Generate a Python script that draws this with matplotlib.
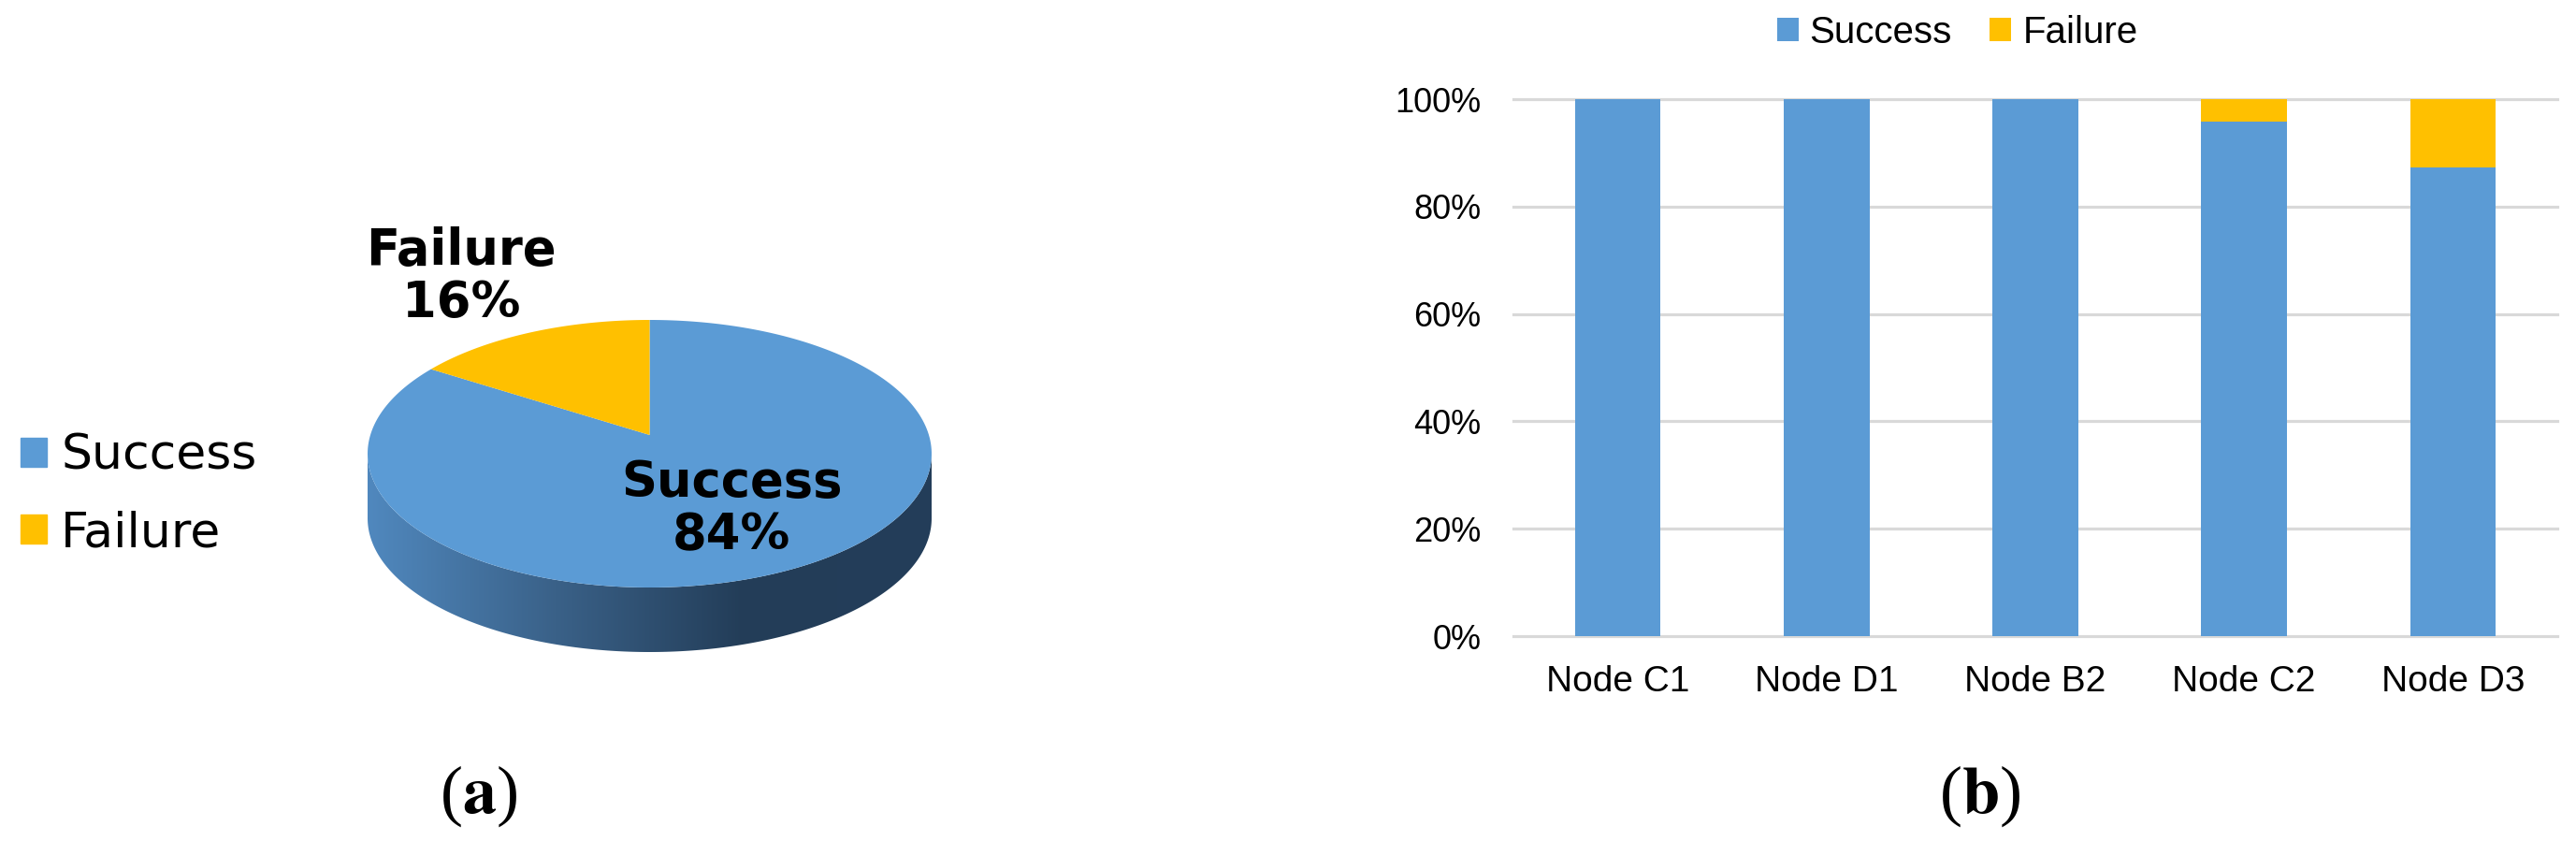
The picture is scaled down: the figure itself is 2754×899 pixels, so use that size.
"""
Two-panel figure: (a) overall success/failure share as a tilted 3-D pie,
(b) per-node success/failure share as 100% stacked bars.
Writes out.png (2754 x 899 px).
"""

import numpy as np

import matplotlib
matplotlib.use("Agg")
import matplotlib.pyplot as plt
from matplotlib.colors import LinearSegmentedColormap
from matplotlib.patches import Patch, Polygon
from matplotlib.ticker import PercentFormatter


# ---- data ----
PIE_LABELS = ["Success", "Failure"]
PIE_SHARES = [84, 16]

NODES = ["Node C1", "Node D1", "Node B2", "Node C2", "Node D3"]
SUCCESS = [100.0, 100.0, 100.0, 95.8, 87.3]
FAILURE = [0.0, 0.0, 0.0, 4.2, 12.7]

COLORS = {"Success": "#5B9BD5", "Failure": "#FFC000"}
SIDE_CMAP = LinearSegmentedColormap.from_list(
    "side", ["#5088BE", "#3A6188", "#233D58", "#243E5A"])

W, H, DPI = 2754, 899, 100
BAR_FONT = "Liberation Sans"

plt.rcParams["mathtext.fontset"] = "stix"

fig = plt.figure(figsize=(W / DPI, H / DPI), dpi=DPI)

# ---- (a) pie, drawn in pixel coordinates of the whole figure ----
axp = fig.add_axes([0, 0, 1, 1], zorder=0)
axp.set_xlim(0, W); axp.set_ylim(H, 0); axp.axis("off")

cx, cy, rx, ry, depth = 694.5, 485.0, 301.5, 143.0, 69.0
lift = 0.14          # perspective: the hub sits a bit above the ellipse centre


def rim(t0, t1, dy=0.0, n=240):
    t = np.radians(np.linspace(t0, t1, n))
    return np.column_stack([cx + rx * np.cos(t), cy - ry * np.sin(t) + dy])


def fan(a0, a1, n=240):
    # points where rays from the hub at angles a0..a1 meet the rim
    a = np.radians(np.linspace(a0, a1, n))
    dx, dy = np.cos(a), np.sin(a)
    pd = lift * dy
    t = -pd + np.sqrt(pd ** 2 - lift ** 2 + 1)
    ux, uy = t * dx, lift + t * dy
    return np.column_stack([cx + rx * ux, cy - ry * uy])


# side wall with a left-to-right shading
side = Polygon(np.vstack([rim(180, 360), rim(360, 180, dy=depth)]),
               closed=True, fc="none", ec="none")
axp.add_patch(side)
grad = axp.imshow(np.linspace(0, 1, 256).reshape(1, -1), cmap=SIDE_CMAP,
                  aspect="auto", interpolation="bilinear",
                  extent=(cx - rx, cx + rx, cy + ry + depth, cy - ry))
grad.set_clip_path(side)
axp.set_xlim(0, W); axp.set_ylim(H, 0)

# top face, slices clockwise from 12 o'clock
hub = (cx, cy - ry * lift)
start = 90.0
total = sum(PIE_SHARES)
for lab, share in zip(PIE_LABELS, PIE_SHARES):
    sweep = 360.0 * share / total
    pts = np.vstack([hub, fan(start, start - sweep)])
    axp.add_patch(Polygon(pts, closed=True, fc=COLORS[lab], ec="none"))
    start -= sweep

LABEL_POS = {"Success": (782, 544), "Failure": (493, 296)}
for lab, share in zip(PIE_LABELS, PIE_SHARES):
    axp.text(*LABEL_POS[lab], f"{lab}\n{share}%", ha="center", va="center",
             fontsize=38, fontweight="bold", linespacing=1.12)

axp.legend(handles=[Patch(color=COLORS[l], label=l) for l in PIE_LABELS],
           loc="center left", bbox_to_anchor=(22, 529),
           bbox_transform=axp.transData, frameon=False, fontsize=37.5,
           borderpad=0, borderaxespad=0, handlelength=0.54,
           handleheight=0.52, handletextpad=0.29, labelspacing=0.62)

# ---- (b) stacked bars ----
axb = fig.add_axes([1618 / W, 1 - 680 / H, 1116 / W, 574 / H], zorder=1)
axb.patch.set_visible(False)
x = np.arange(len(NODES))
axb.bar(x, SUCCESS, 0.41, color=COLORS["Success"], label="Success", zorder=3)
axb.bar(x, FAILURE, 0.41, bottom=SUCCESS, color=COLORS["Failure"],
        label="Failure", zorder=3)
axb.set_xlim(-0.5, len(NODES) - 0.5); axb.set_ylim(0, 100)
axb.set_yticks(range(0, 101, 20))
axb.yaxis.set_major_formatter(PercentFormatter(decimals=0))
axb.grid(axis="y", color="#D9D9D9", lw=2.3)
axb.set_axisbelow(True)
for ln in axb.get_ygridlines():
    ln.set_clip_on(False)
for s in axb.spines.values():
    s.set_visible(False)
axb.set_xticks(x, NODES)
axb.tick_params(axis="x", length=0, pad=22, labelsize=28)
axb.tick_params(axis="y", length=0, pad=25, labelsize=26)
for t in axb.get_xticklabels() + axb.get_yticklabels():
    t.set_fontfamily(BAR_FONT)

fig.legend(*axb.get_legend_handles_labels(), loc="center",
           bbox_to_anchor=(2092.5 / W, 1 - 35 / H), ncol=2, frameon=False,
           prop={"family": BAR_FONT, "size": 29}, handlelength=0.57,
           handleheight=0.57, handletextpad=0.3, columnspacing=1.0)

# ---- panel tags ----
for tag, xc in (("a", 512), ("b", 2117)):
    fig.text(xc / W, 1 - 851 / H, rf"($\mathbf{{{tag}}}$)", ha="center",
             va="center", fontsize=52, fontfamily="Liberation Serif")

fig.savefig("out.png", dpi=DPI)
